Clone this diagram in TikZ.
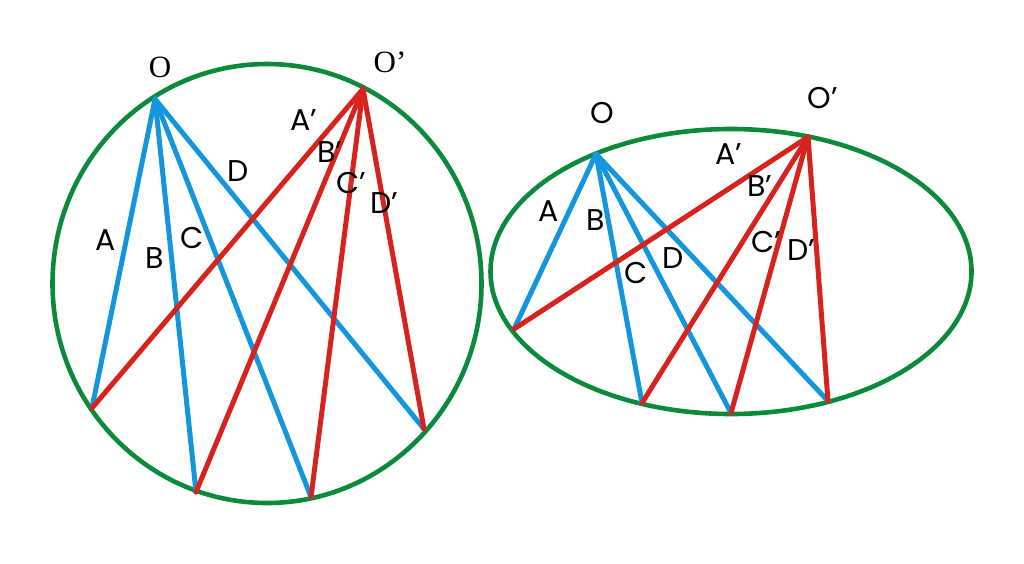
\documentclass[tikz,border=0pt]{standalone}
\usepackage{fontspec}
\setmainfont{Poppins}
\newfontfamily\serifO{Liberation Serif}
\definecolor{lblue}{RGB}{20,150,220}
\definecolor{lred}{RGB}{215,35,30}
\definecolor{lgreen}{RGB}{10,138,58}
\begin{document}
\begin{tikzpicture}[x=1pt,y=-1pt,
  rim/.style={draw=lgreen, line width=4.6pt},
  bline/.style={draw=lblue, line width=5pt, line cap=round},
  rline/.style={draw=lred, line width=5pt, line cap=round},
  lab/.style={inner sep=0pt, font=\fontsize{30}{30}\selectfont},
  olab/.style={inner sep=0pt, font=\serifO\fontsize{31}{31}\selectfont}]
\useasboundingbox (0,0) rectangle (1024,563);
% ---------- left circle ----------
\draw[rim] (267,283.5) ellipse [x radius=214.5, y radius=219.5];
\coordinate (O1) at (155,99);
\coordinate (P1) at (363,89);
\coordinate (a1) at (92,408);
\coordinate (b1) at (196,492);
\coordinate (c1) at (311,497);
\coordinate (d1) at (424,429);
\draw[bline] (O1) -- (a1);
\draw[bline] (O1) -- (b1);
\draw[bline] (O1) -- (c1);
\draw[bline] (O1) -- (d1);
\draw[rline] (P1) -- (a1);
\draw[rline] (P1) -- (b1);
\draw[rline] (P1) -- (c1);
\draw[rline] (P1) -- (d1);
\node[olab] (lO1) at (160,67) {O};
\node[olab] (lP1) at (390,62) {O’};
\node[lab] (lA1) at (106,240) {A};
\node[lab] (lB1) at (155,258) {B};
\node[lab] (lC1) at (192,238) {C};
\node[lab] (lD1) at (238,171) {D};
\node[lab] (lA1p) at (304,120) {A’};
\node[lab] (lB1p) at (330,152) {B’};
\node[lab] (lC1p) at (351,183) {C’};
\node[lab] (lD1p) at (384,203) {D’};
% ---------- right ellipse ----------
\draw[rim] (731,271.5) ellipse [x radius=240.5, y radius=142.5];
\coordinate (O2) at (596,154);
\coordinate (P2) at (808,137);
\coordinate (a2) at (514,329);
\coordinate (b2) at (642,403);
\coordinate (c2) at (731,413);
\coordinate (d2) at (828,401);
\draw[bline] (O2) -- (a2);
\draw[bline] (O2) -- (b2);
\draw[bline] (O2) -- (c2);
\draw[bline] (O2) -- (d2);
\draw[rline] (P2) -- (a2);
\draw[rline] (P2) -- (b2);
\draw[rline] (P2) -- (c2);
\draw[rline] (P2) -- (d2);
\node[lab] (lO2) at (602,113) {O};
\node[lab] (lP2) at (823,98) {O’};
\node[lab] (lA2) at (549,211) {A};
\node[lab] (lB2) at (596,220) {B};
\node[lab] (lC2) at (636,273) {C};
\node[lab] (lD2) at (673,258) {D};
\node[lab] (lA2p) at (729,154) {A’};
\node[lab] (lB2p) at (760,186) {B’};
\node[lab] (lC2p) at (766,242) {C’};
\node[lab] (lD2p) at (801,250) {D’};
\end{tikzpicture}
\end{document}
